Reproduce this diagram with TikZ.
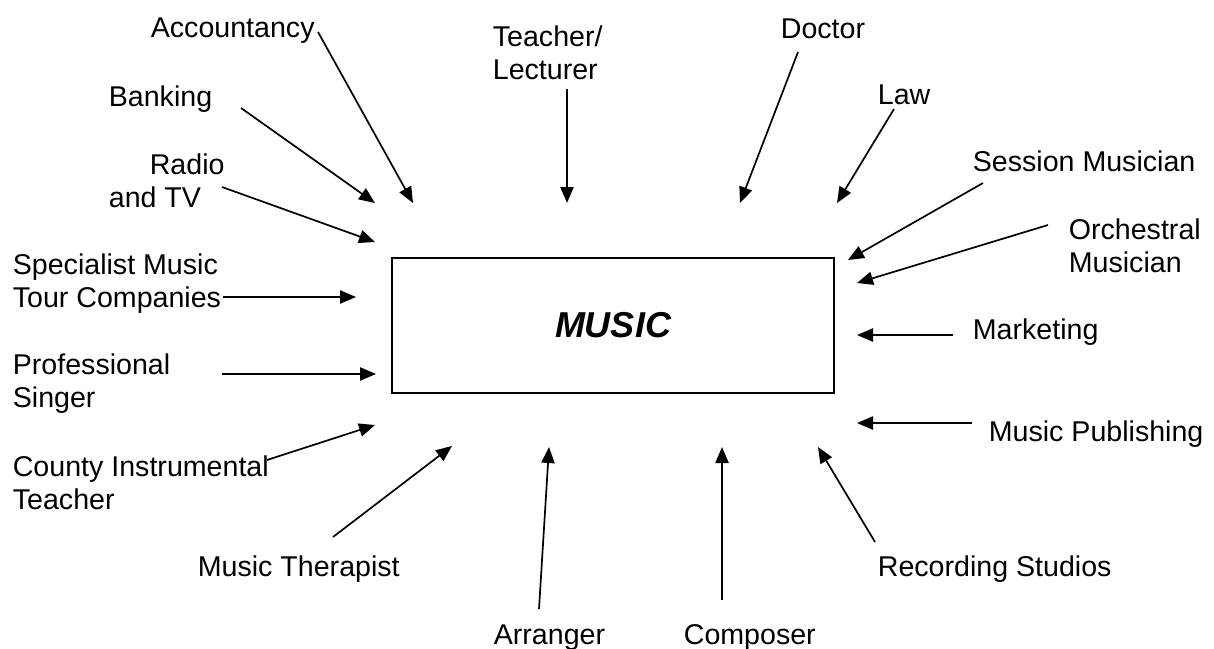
\documentclass[tikz,border=0pt]{standalone}
\usepackage{fontspec}
\setmainfont{Liberation Sans}
\usetikzlibrary{arrows.meta}
\begin{document}
\begin{tikzpicture}[x=0.5pt,y=-0.5pt,>={Triangle[length=8pt,width=6.6pt]},line width=0.85pt,
	font=\fontsize{14.3}{16.45}\selectfont,
	lbl/.style={anchor=north west,inner sep=0pt,align=left}]
	\useasboundingbox (0,0) rectangle (1214,648);
	% centre box
	\node[draw,minimum width=221pt,minimum height=67.5pt,inner sep=0pt,
		font=\fontsize{18}{21}\selectfont\bfseries\itshape] (music) at (613,325.5) {MUSIC};
	% labels
	\node[lbl] (acc) at (150,17) {Accountancy};
	\node[lbl] (teach) at (492,25) {Teacher/\\Lecturer};
	\node[lbl] (doc) at (780,18) {Doctor};
	\node[lbl] (bank) at (108,85) {Banking};
	\node[lbl] (law) at (877,84) {Law};
	\node[lbl] (radio) at (108,153) {\hspace*{20.5pt}Radio\\and TV};
	\node[lbl] (sess) at (972,150) {Session Musician};
	\node[lbl] (orch) at (1068,218) {Orchestral\\Musician};
	\node[lbl] (tour) at (12,253) {Specialist Music\\Tour Companies};
	\node[lbl] (mkt) at (972,318) {Marketing};
	\node[lbl] (sing) at (12,353) {Professional\\Singer};
	\node[lbl] (pub) at (988,420) {Music Publishing};
	\node[lbl] (county) at (12,455) {County Instrumental\\Teacher};
	\node[lbl] (ther) at (197,555) {Music Therapist};
	\node[lbl] (rec) at (877,555) {Recording Studios};
	\node[lbl] (arr) at (493,624) {Arranger};
	\node[lbl] (comp) at (683,624) {Composer};
	% arrow ends
	\coordinate (acc-s) at (318,32);   \coordinate (acc-t) at (413,203);
	\coordinate (bank-s) at (241,108); \coordinate (bank-t) at (375,203);
	\coordinate (radio-s) at (222,187);\coordinate (radio-t) at (375,242);
	\coordinate (teach-s) at (567,89); \coordinate (teach-t) at (567,203);
	\coordinate (doc-s) at (798,52);   \coordinate (doc-t) at (740,203);
	\coordinate (law-s) at (894,109);  \coordinate (law-t) at (837,203);
	\coordinate (sess-s) at (983,183); \coordinate (sess-t) at (848,260);
	\coordinate (orch-s) at (1048,225);\coordinate (orch-t) at (857,283);
	\coordinate (mkt-s) at (953,335);  \coordinate (mkt-t) at (857,335);
	\coordinate (pub-s) at (972,423);  \coordinate (pub-t) at (857,423);
	\coordinate (tour-s) at (223,297); \coordinate (tour-t) at (356,297);
	\coordinate (sing-s) at (222,374); \coordinate (sing-t) at (376,374);
	\coordinate (county-s) at (267,460);\coordinate (county-t) at (375,425);
	\coordinate (ther-s) at (333,537); \coordinate (ther-t) at (452,446);
	\coordinate (arr-s) at (539,609);  \coordinate (arr-t) at (549,447);
	\coordinate (comp-s) at (722,600); \coordinate (comp-t) at (722,447);
	\coordinate (rec-s) at (875,542);  \coordinate (rec-t) at (818,447);
	% arrows
	\draw[->] (acc-s)--(acc-t);
	\draw[->] (bank-s)--(bank-t);
	\draw[->] (radio-s)--(radio-t);
	\draw[->] (teach-s)--(teach-t);
	\draw[->] (doc-s)--(doc-t);
	\draw[->] (law-s)--(law-t);
	\draw[->] (sess-s)--(sess-t);
	\draw[->] (orch-s)--(orch-t);
	\draw[->] (mkt-s)--(mkt-t);
	\draw[->] (pub-s)--(pub-t);
	\draw[->] (tour-s)--(tour-t);
	\draw[->] (sing-s)--(sing-t);
	\draw[->] (county-s)--(county-t);
	\draw[->] (ther-s)--(ther-t);
	\draw[->] (arr-s)--(arr-t);
	\draw[->] (comp-s)--(comp-t);
	\draw[->] (rec-s)--(rec-t);
\end{tikzpicture}
\end{document}
